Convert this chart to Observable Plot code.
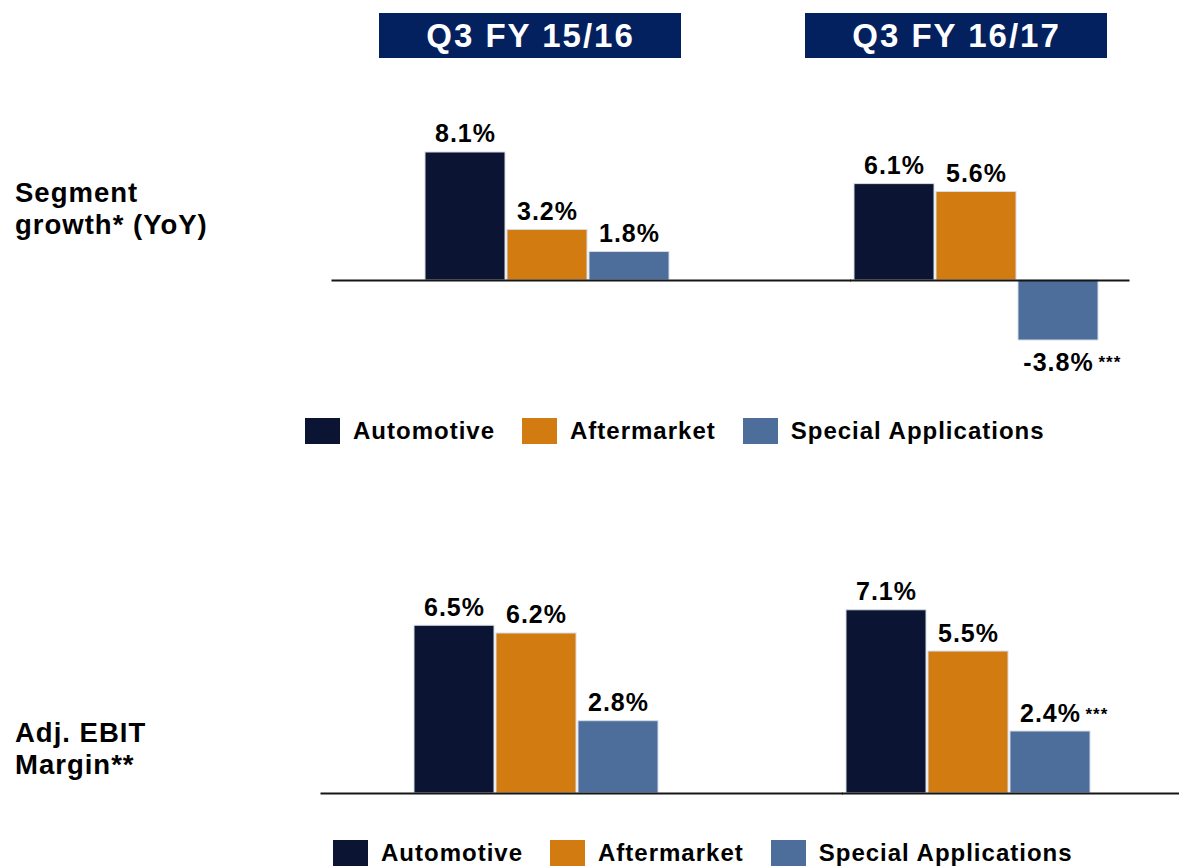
<!DOCTYPE html>
<html>
<head>
<meta charset="utf-8">
<script src="https://cdn.jsdelivr.net/npm/d3@7"></script>
<script src="https://cdn.jsdelivr.net/npm/@observablehq/plot@0.6"></script>
<style>
  body { margin: 0; background: #fff; }
  #page { position: relative; width: 1179px; height: 867px; overflow: hidden;
          font-family: "Liberation Sans", Arial, sans-serif; font-weight: bold; color: #000; }
  .rowlabel { font-size: 27.5px; line-height: 32px; letter-spacing: 1px; white-space: nowrap; }
  .legend { display: flex; align-items: center; font-size: 24px; letter-spacing: 1px; white-space: nowrap; }
  .item { display: flex; align-items: center; margin-right: 27px; }
  .sw { width: 35px; height: 26px; margin-right: 13px; }
</style>
</head>
<body>
<div id="page"></div>
<script>
// ---- data ----
const periods = ["Q3 FY 15/16", "Q3 FY 16/17"];
const segments = ["Automotive", "Aftermarket", "Special Applications"];
const colors = ["#0b1533", "#d17b10", "#4d6d9b"];
const growth1516 = [8.1, 3.2, 1.8];
const growth1617 = [6.1, 5.6, -3.8];
const margin1516 = [6.5, 6.2, 2.8];
const margin1617 = [7.1, 5.5, 2.4];
const growthNotes1516 = ["", "", ""];
const growthNotes1617 = ["", "", "***"];
const marginNotes1516 = ["", "", ""];
const marginNotes1617 = ["", "", "***"];
const growthLabel = ["Segment", "growth* (YoY)"];
const marginLabel = ["Adj. EBIT", "Margin**"];

(function () {
const FONT = '"Liberation Sans", Arial, sans-serif';
const fmt = v => v.toFixed(1) + "%";

function table(a, b, na, nb) {
  return [a, b].flatMap((vals, i) => vals.map((value, j) => ({
    period: periods[i], segment: segments[j], value, note: (i === 0 ? na : nb)[j]
  })));
}

const growthData = table(growth1516, growth1617, growthNotes1516, growthNotes1617);
const marginData = table(margin1516, margin1617, marginNotes1516, marginNotes1617);

const page = document.getElementById("page");

function place(el, left, topPx) {
  el.style.position = "absolute";
  el.style.left = left + "px";
  el.style.top = topPx + "px";
  page.appendChild(el);
}

// ---- header boxes ----
const header = Plot.plot({
  width: 1179, height: 58,
  marginTop: 13, marginBottom: 0, marginLeft: 379, marginRight: 71,
  x: { domain: periods, paddingInner: 0.291, paddingOuter: 0, axis: null },
  style: { fontFamily: FONT, fontWeight: "bold", letterSpacing: "2px", background: "transparent" },
  marks: [
    Plot.cell(periods, { x: d => d, fill: "#03205f", inset: 0 }),
    Plot.text(periods, { x: d => d, text: d => d, fill: "#ffffff", fontSize: 33, fontWeight: "bold", lineAnchor: "middle" })
  ]
});
place(header, 0, 0);

// ---- panel ----
function panel(data, o) {
  const stroke = "#161616";
  return Plot.plot({
    width: 1179, height: o.height,
    marginTop: 0, marginBottom: 0, marginLeft: o.marginLeft, marginRight: o.marginRight,
    fx: { domain: periods, paddingInner: o.pi, paddingOuter: o.po, align: o.align, axis: null },
    x: { domain: segments, padding: 0.03, axis: null },
    y: { domain: o.yDomain, axis: null },
    color: { domain: segments, range: colors },
    style: { fontFamily: FONT, fontWeight: "bold", letterSpacing: "1px", background: "transparent", overflow: "visible" },
    marks: [
      Plot.barY(data, { fx: "period", x: "segment", y: "value", fill: "segment", stroke: "#d6dde6", strokeWidth: 1 }),
      // baseline: one piece per facet, extended past the bar groups so it reads as a single line
      Plot.ruleY([0], { fx: [periods[0]], stroke, strokeWidth: 2, insetLeft: o.rule1[0], insetRight: o.rule1[1] }),
      Plot.ruleY([0], { fx: [periods[1]], stroke, strokeWidth: 2, insetLeft: o.rule2[0], insetRight: o.rule2[1] }),
      Plot.text(data.filter(d => d.value >= 0), { fx: "period", x: "segment", y: "value", text: d => fmt(d.value),
        lineAnchor: "bottom", dy: -10, fontSize: 25, fontWeight: "bold", fill: "#000" }),
      Plot.text(data.filter(d => d.value < 0), { fx: "period", x: "segment", y: "value", text: d => fmt(d.value),
        lineAnchor: "top", dy: 13, fontSize: 25, fontWeight: "bold", fill: "#000" }),
      Plot.text(data.filter(d => d.note && d.value >= 0), { fx: "period", x: "segment", y: "value", text: "note",
        textAnchor: "start", lineAnchor: "bottom", dx: 35, dy: -12, fontSize: 17, fontWeight: "bold", fill: "#000" }),
      Plot.text(data.filter(d => d.note && d.value < 0), { fx: "period", x: "segment", y: "value", text: "note",
        textAnchor: "start", lineAnchor: "top", dx: 40, dy: 15, fontSize: 17, fontWeight: "bold", fill: "#000" })
    ]
  });
}

const topPanel = panel(growthData, {
  height: 340, marginLeft: 332, marginRight: 49,
  pi: 0.415, po: 0.1375, align: 0.758,
  yDomain: [-8.23, 13.29],
  rule1: [-89.5, -179], rule2: [0, -28.5]
});
place(topPanel, 0, 70);

const bottomPanel = panel(marginData, {
  height: 260, marginLeft: 320, marginRight: 0,
  pi: 0.419, po: 0.2037, align: 0.5085,
  yDomain: [-1.05, 9.03],
  rule1: [-89.5, -182], rule2: [0, -86.5]
});
place(bottomPanel, 0, 560);

// ---- row labels ----
function rowLabel(lines, left, topPx) {
  const d = document.createElement("div");
  d.className = "rowlabel";
  lines.forEach(t => { const s = document.createElement("div"); s.textContent = t; d.appendChild(s); });
  place(d, left, topPx);
}
rowLabel(growthLabel, 15, 177);
rowLabel(marginLabel, 15, 717);

// ---- legends ----
function legend(left, topPx) {
  const d = document.createElement("div");
  d.className = "legend";
  segments.forEach((s, i) => {
    const it = document.createElement("div"); it.className = "item";
    const sw = document.createElement("div"); sw.className = "sw"; sw.style.background = colors[i];
    const tx = document.createElement("span"); tx.textContent = s;
    it.appendChild(sw); it.appendChild(tx); d.appendChild(it);
  });
  place(d, left, topPx);
}
legend(305, 417);
legend(333, 839);
})();
</script>
</body>
</html>
